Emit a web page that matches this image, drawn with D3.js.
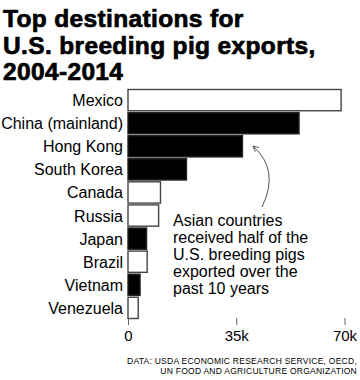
<!DOCTYPE html>
<html><head><meta charset="utf-8">
<script src="https://cdn.jsdelivr.net/npm/d3@7"></script>
<style>
html,body{margin:0;padding:0;background:#fff;}
svg{display:block;}
text{font-family:"Liberation Sans",Arial,sans-serif;fill:#000;}
</style></head>
<body>
<svg id="chart" width="360" height="380"></svg>
<script>
const countries = ["Mexico","China (mainland)","Hong Kong","South Korea","Canada","Russia","Japan","Brazil","Vietnam","Venezuela"];
const exportsHead = [68900,55300,37000,18900,10500,9900,6000,6200,3900,3300];
const asian = [false,true,true,true,false,false,true,false,true,false];
const tickValues = [0,35000,70000];
const tickLabels = ["0","35k","70k"];
const titleLines = ["Top destinations for","U.S. breeding pig exports,","2004-2014"];
const noteLines = ["Asian countries","received half of the","U.S. breeding pigs","exported over the","past 10 years"];
const sourceLines = ["DATA: USDA ECONOMIC RESEARCH SERVICE, OECD,","UN FOOD AND AGRICULTURE ORGANIZATION"];

const svg = d3.select("#chart");
const x = d3.scaleLinear().domain([0,70000]).range([128,344.5]);
const y = d3.scaleBand().domain(countries).range([89.5,318.5]).paddingInner(0.08);

// title
svg.append("g").selectAll("text").data(titleLines).join("text")
  .attr("x",3).attr("y",(d,i)=>27+i*26.5)
  .style("font-size","24.5px").style("font-weight","bold").style("letter-spacing","0.35px")
  .attr("stroke","#000").attr("stroke-width",0.7)
  .text(d=>d);

// bars
const data = countries.map((c,i)=>({c, v:exportsHead[i], a:asian[i]}));
svg.append("g").selectAll("rect").data(data).join("rect")
  .attr("x",x(0)).attr("y",d=>y(d.c))
  .attr("width",d=>x(d.v)-x(0)).attr("height",y.bandwidth())
  .attr("fill",d=>d.a?"#000":"#fff")
  .attr("stroke",d=>d.a?"#222":"#444").attr("stroke-width",1.4);

// category labels
svg.append("g").selectAll("text").data(countries).join("text")
  .attr("x",123).attr("y",d=>y(d)+y.bandwidth()/2+6)
  .attr("text-anchor","end").style("font-size","16px")
  .text(d=>d);

// axis
const axis = d3.axisBottom(x).tickValues(tickValues).tickSize(7).tickPadding(5)
  .tickFormat((d,i)=>tickLabels[i]);
const ag = svg.append("g").attr("transform","translate(0,318)").call(axis);
ag.select(".domain").remove();
ag.selectAll(".tick line").attr("stroke","#666");
ag.selectAll(".tick text").style("font-size","15px").style("font-family","'Liberation Sans',Arial,sans-serif").attr("fill","#000");

// annotation
svg.append("g").selectAll("text").data(noteLines).join("text")
  .attr("x",173).attr("y",(d,i)=>226+i*17.1)
  .style("font-size","16px").text(d=>d);

svg.append("defs").append("marker").attr("id","ah")
  .attr("viewBox","0 0 10 10").attr("refX",9).attr("refY",5)
  .attr("markerWidth",7).attr("markerHeight",7).attr("orient","auto")
  .append("path").attr("d","M1,1 L9,5 L1,9").attr("fill","none").attr("stroke","#555").attr("stroke-width",1.3);
svg.append("path").attr("d","M262,207 Q280,170 253,146")
  .attr("fill","none").attr("stroke","#555").attr("stroke-width",1)
  .attr("marker-end","url(#ah)");

// source
svg.append("g").selectAll("text").data(sourceLines).join("text")
  .attr("x",357).attr("y",(d,i)=>364+i*9.5)
  .attr("text-anchor","end").style("font-size","8.5px").style("letter-spacing","0.25px")
  .text(d=>d);
</script>
</body></html>
